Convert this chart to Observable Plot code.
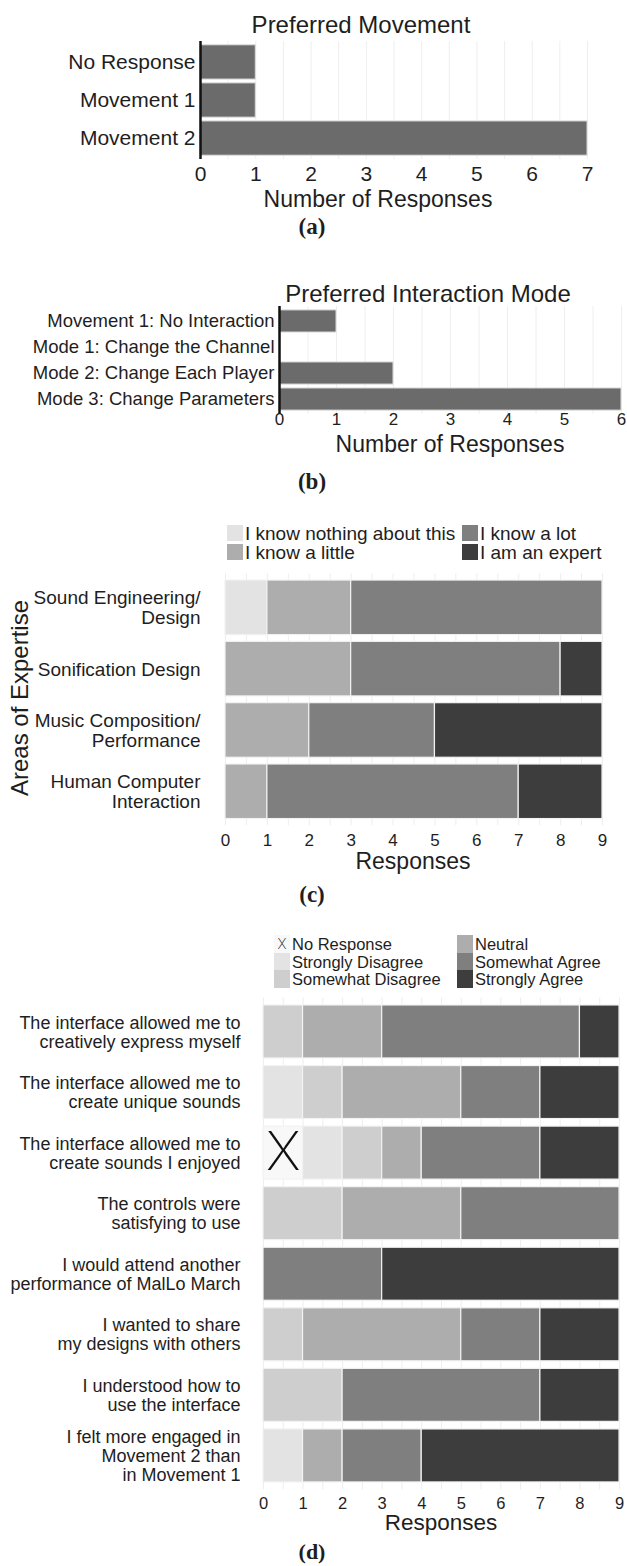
<!DOCTYPE html>
<html><head><meta charset="utf-8">
<script src="https://cdn.jsdelivr.net/npm/d3@7"></script>
<script src="https://cdn.jsdelivr.net/npm/@observablehq/plot@0.6"></script>
<style>
body{margin:0;background:#fff;}
#page{position:relative;width:627px;height:1566px;overflow:hidden;font-family:"Liberation Sans",Arial,sans-serif;color:#1e1e1e;background:#fff;}
#page svg{position:absolute;left:0;overflow:visible;}
.t{position:absolute;white-space:nowrap;line-height:1;}
.sw{position:absolute;}
</style></head><body><div id="page"></div>
<script>
// ---------- DATA ----------
// (a) Preferred Movement
const movementCats = ["No Response", "Movement 1", "Movement 2"];
const movementCounts = [1, 1, 7];
const movementTicks = [0, 1, 2, 3, 4, 5, 6, 7];

// (b) Preferred Interaction Mode
const modeCats = ["Movement 1: No Interaction", "Mode 1: Change the Channel", "Mode 2: Change Each Player", "Mode 3: Change Parameters"];
const modeCounts = [1, 0, 2, 6];
const modeTicks = [0, 1, 2, 3, 4, 5, 6];

// (c) Areas of Expertise
const expertiseAreas = ["Sound Engineering/\nDesign", "Sonification Design", "Music Composition/\nPerformance", "Human Computer\nInteraction"];
const expertiseLevels = ["I know nothing about this", "I know a little", "I know a lot", "I am an expert"];
const expertiseColors = ["#e3e3e3", "#adadad", "#7f7f7f", "#3d3d3d"];
const soundEngineering = [1, 2, 6, 0];
const sonificationDesign = [0, 3, 5, 1];
const musicComposition = [0, 2, 3, 4];
const humanComputer = [0, 1, 6, 2];
const responseTicks = [0, 1, 2, 3, 4, 5, 6, 7, 8, 9];

// (d) Likert statements
const statements = [
  "The interface allowed me to\ncreatively express myself",
  "The interface allowed me to\ncreate unique sounds",
  "The interface allowed me to\ncreate sounds I enjoyed",
  "The controls were\nsatisfying to use",
  "I would attend another\nperformance of MalLo March",
  "I wanted to share\nmy designs with others",
  "I understood how to\nuse the interface",
  "I felt more engaged in\nMovement 2 than\nin Movement 1"
];
const agreeLevels = ["No Response", "Strongly Disagree", "Somewhat Disagree", "Neutral", "Somewhat Agree", "Strongly Agree"];
const agreeColors = ["#f8f8f8", "#e3e3e3", "#cdcecd", "#acadac", "#7f7f7f", "#3d3d3d"];
const creativelyExpress = [0, 0, 1, 2, 5, 1];
const uniqueSounds = [0, 1, 1, 3, 2, 2];
const enjoyedSounds = [1, 1, 1, 1, 3, 2];
const satisfyingControls = [0, 0, 2, 3, 4, 0];
const attendAnother = [0, 0, 0, 0, 3, 6];
const shareDesigns = [0, 0, 1, 4, 2, 2];
const understoodInterface = [0, 0, 2, 0, 5, 2];
const moreEngaged = [0, 1, 0, 1, 2, 5];

// ---------- helpers ----------
const page = document.getElementById("page");
const FONT = '"Liberation Sans", Arial, sans-serif';
const SERIF = '"Liberation Serif", "Times New Roman", serif';
const THIN = "Inter, 'Liberation Sans', sans-serif";

function text(str, x, y, o = {}) {
  const d = document.createElement("div");
  d.className = "t";
  d.textContent = str;
  d.style.left = x + "px";
  d.style.top = y + "px";
  d.style.fontSize = (o.size || 20) + "px";
  if (o.lineHeight) d.style.lineHeight = o.lineHeight + "px";
  if (o.weight) d.style.fontWeight = o.weight;
  d.style.fontFamily = o.family || FONT;
  const ax = o.anchor === "start" ? "0" : o.anchor === "end" ? "-100%" : "-50%";
  d.style.transform = `translate(${ax},-50%)` + (o.rotate ? ` rotate(${o.rotate}deg)` : "");
  page.appendChild(d);
  return d;
}
function place(svg, top) {
  svg.style.top = top + "px";
  page.appendChild(svg);
}
function stackRows(rowNames, rows, levels) {
  const out = [];
  rows.forEach((vals, i) => {
    let acc = 0;
    vals.forEach((v, j) => {
      if (v > 0) out.push({q: rowNames[i], level: levels[j], x1: acc, x2: acc + v});
      acc += v;
    });
  });
  return out;
}
function legend(levels, colors, perCol, colX, rowY, rowStep, swW, swH, size, xMark) {
  levels.forEach((lv, i) => {
    const c = Math.floor(i / perCol), r = i % perCol;
    const cy = rowY + r * rowStep;
    const sw = document.createElement("div");
    sw.className = "sw";
    sw.style.left = colX[c] + "px";
    sw.style.top = (cy - swH / 2) + "px";
    sw.style.width = swW + "px";
    sw.style.height = swH + "px";
    sw.style.background = colors[i];
    page.appendChild(sw);
    if (xMark && lv === xMark) {
      text("X", colX[c] + swW / 2, cy, {size: 14, weight: 200, family: THIN});
    }
    text(lv, colX[c] + swW + 2, cy, {size, anchor: "start"});
  });
}
const INK = "#1e1e1e";
const GRID = "#eeeeee";

// ---------- (a) ----------
const movData = movementCats.map((c, i) => ({cat: c, count: movementCounts[i]}));
place(Plot.plot({
  width: 627, height: 190,
  marginLeft: 200, marginRight: 40, marginTop: 41, marginBottom: 31,
  style: {fontFamily: FONT, color: INK, background: "transparent"},
  x: {domain: [0, 7]},
  y: {domain: movementCats, padding: 0.1, round: false},
  marks: [
    Plot.gridX({ticks: 14, stroke: GRID, strokeOpacity: 1}),
    Plot.barX(movData, {x: "count", y: "cat", fill: "#6b6b6b", stroke: "#dcdcdc", strokeWidth: 1}),
    Plot.ruleX([0], {stroke: "#111", strokeWidth: 2.5}),
    Plot.axisX({ticks: movementTicks, tickSize: 0, tickPadding: 6.5, fontSize: 21, label: null, tickFormat: d3.format("d")}),
    Plot.axisY({tickSize: 0, tickPadding: 5, fontSize: 21, label: null})
  ]
}), 0);
text("Preferred Movement", 361, 25, {size: 24});
text("Number of Responses", 378, 199, {size: 23});
text("(a)", 312, 226, {size: 23, weight: "bold", family: SERIF});

// ---------- (b) ----------
const modeData = modeCats.map((c, i) => ({cat: c, count: modeCounts[i]}));
place(Plot.plot({
  width: 627, height: 150,
  marginLeft: 279, marginRight: 6, marginTop: 26, marginBottom: 16,
  style: {fontFamily: FONT, color: INK, background: "transparent"},
  x: {domain: [0, 6]},
  y: {domain: modeCats, padding: 0.15, round: false},
  marks: [
    Plot.gridX({ticks: 12, stroke: GRID, strokeOpacity: 1}),
    Plot.barX(modeData.filter(d => d.count > 0), {x: "count", y: "cat", fill: "#6b6b6b", stroke: "#dcdcdc", strokeWidth: 1}),
    Plot.ruleX([0], {stroke: "#111", strokeWidth: 2.5}),
    Plot.axisX({ticks: modeTicks, tickSize: 0, tickPadding: -2, fontSize: 17, label: null, tickFormat: d3.format("d")}),
    Plot.axisY({tickSize: 0, tickPadding: 5, fontSize: 18.5, label: null})
  ]
}), 280);
text("Preferred Interaction Mode", 428, 293.5, {size: 24});
text("Number of Responses", 450, 444, {size: 23});
text("(b)", 312, 481, {size: 23, weight: "bold", family: SERIF});

// ---------- (c) ----------
legend(expertiseLevels, expertiseColors, 2, [227, 462], 533, 19, 16, 16, 19, null);
const expData = stackRows(expertiseAreas, [soundEngineering, sonificationDesign, musicComposition, humanComputer], expertiseLevels);
place(Plot.plot({
  width: 627, height: 285,
  marginLeft: 225, marginRight: 25, marginTop: 8.3, marginBottom: 24.7,
  style: {fontFamily: FONT, color: INK, background: "transparent"},
  x: {domain: [0, 9]},
  y: {domain: expertiseAreas, padding: 0.11, round: false},
  color: {domain: expertiseLevels, range: expertiseColors},
  marks: [
    Plot.gridX({ticks: 18, stroke: GRID, strokeOpacity: 1}),
    Plot.barX(expData, {x1: "x1", x2: "x2", y: "q", fill: "level", stroke: "#f2f2f2", strokeWidth: 1.2}),
    Plot.axisX({ticks: responseTicks, tickSize: 0, tickPadding: 8, fontSize: 17, label: null, tickFormat: d3.format("d")}),
    Plot.axisY({tickSize: 0, tickPadding: 25, fontSize: 19, lineHeight: 1.05, label: null})
  ]
}), 565);
text("Areas of Expertise", 20, 698, {size: 24, rotate: -90});
text("Responses", 413, 861, {size: 23});
text("(c)", 312, 894, {size: 23, weight: "bold", family: SERIF});

// ---------- (d) ----------
legend(agreeLevels, agreeColors, 3, [274, 457], 944, 17.5, 16, 17.5, 16.5, "No Response");
const agreeData = stackRows(statements, [creativelyExpress, uniqueSounds, enjoyedSounds, satisfyingControls, attendAnother, shareDesigns, understoodInterface, moreEngaged], agreeLevels);
place(Plot.plot({
  width: 627, height: 525,
  marginLeft: 263, marginRight: 8, marginTop: 7.4, marginBottom: 25.5,
  style: {fontFamily: FONT, color: INK, background: "transparent"},
  x: {domain: [0, 9]},
  y: {domain: statements, padding: 0.125, round: false},
  color: {domain: agreeLevels, range: agreeColors},
  marks: [
    Plot.gridX({ticks: 18, stroke: GRID, strokeOpacity: 1}),
    Plot.barX(agreeData, {x1: "x1", x2: "x2", y: "q", fill: "level", stroke: "#f2f2f2", strokeWidth: 1.2}),
    Plot.text(agreeData.filter(d => d.level === "No Response"), {
      x: d => (d.x1 + d.x2) / 2, y: "q", text: () => "X",
      fontSize: 54, fontWeight: 200, fontFamily: THIN, fill: "#111"
    }),
    Plot.axisX({ticks: responseTicks, tickSize: 0, tickPadding: 7, fontSize: 16.5, label: null, tickFormat: d3.format("d")}),
    Plot.axisY({tickSize: 0, tickPadding: 23, fontSize: 18, lineHeight: 1.06, label: null})
  ]
}), 990);
text("Responses", 441, 1523, {size: 22.5});
text("(d)", 312, 1552, {size: 22, weight: "bold", family: SERIF});
</script>
</body></html>
